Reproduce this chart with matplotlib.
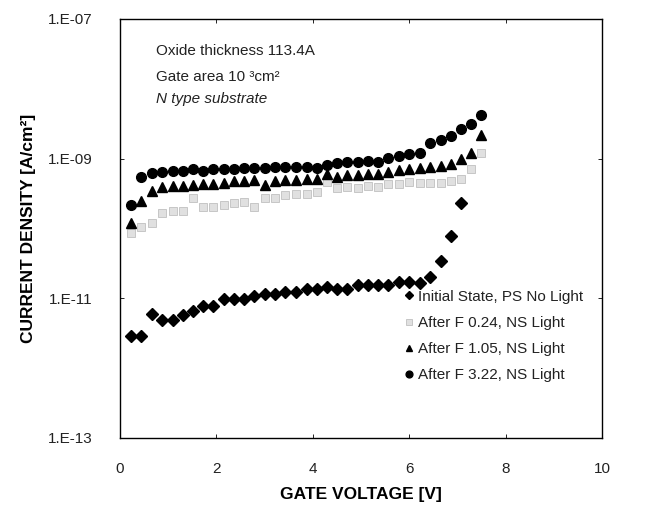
"""
Current density vs gate voltage, log scale, four stress states.
"""

import matplotlib
matplotlib.use("Agg")
import matplotlib.pyplot as plt

plt.rcParams["font.family"] = ["Liberation Sans", "DejaVu Sans"]

# gate voltage steps (V)
voltage = [0.22, 0.44, 0.66, 0.87, 1.09, 1.30, 1.51, 1.73, 1.94, 2.15,
           2.37, 2.58, 2.79, 3.01, 3.22, 3.43, 3.65, 3.87, 4.08, 4.29,
           4.51, 4.72, 4.93, 5.15, 5.36, 5.57, 5.79, 6.00, 6.22, 6.43,
           6.65, 6.86, 7.07, 7.28, 7.49]

# Initial State, PS No Light (33 points, up to ~7.07 V)
j_initial = [2.88e-12, 2.88e-12, 5.90e-12, 4.90e-12, 4.84e-12, 5.77e-12, 6.65e-12,
             7.76e-12, 7.76e-12, 9.68e-12, 9.68e-12, 9.68e-12, 1.08e-11, 1.15e-11,
             1.15e-11, 1.24e-11, 1.24e-11, 1.35e-11, 1.35e-11, 1.47e-11, 1.36e-11,
             1.35e-11, 1.55e-11, 1.55e-11, 1.55e-11, 1.55e-11, 1.73e-11, 1.73e-11,
             1.67e-11, 2.04e-11, 3.39e-11, 7.80e-11, 2.32e-10]

# After F 0.24, NS Light
j_f024 = [8.71e-11, 1.04e-10, 1.19e-10, 1.65e-10, 1.76e-10, 1.78e-10, 2.73e-10,
          2.03e-10, 2.05e-10, 2.17e-10, 2.30e-10, 2.37e-10, 2.05e-10, 2.71e-10,
          2.71e-10, 3.02e-10, 3.09e-10, 3.15e-10, 3.30e-10, 4.59e-10, 3.84e-10,
          3.89e-10, 3.84e-10, 4.10e-10, 3.96e-10, 4.30e-10, 4.38e-10, 4.59e-10,
          4.53e-10, 4.44e-10, 4.53e-10, 4.74e-10, 5.16e-10, 7.05e-10, 1.22e-09]

# After F 1.05, NS Light
j_f105 = [1.21e-10, 2.50e-10, 3.44e-10, 3.93e-10, 4.06e-10, 4.10e-10, 4.20e-10,
          4.34e-10, 4.38e-10, 4.53e-10, 4.74e-10, 4.74e-10, 4.94e-10, 4.24e-10,
          4.83e-10, 4.94e-10, 4.94e-10, 5.06e-10, 5.12e-10, 5.97e-10, 5.52e-10,
          5.83e-10, 5.83e-10, 5.97e-10, 6.09e-10, 6.44e-10, 6.89e-10, 7.11e-10,
          7.43e-10, 7.67e-10, 7.93e-10, 8.47e-10, 9.79e-10, 1.19e-09, 2.16e-09]

# After F 3.22, NS Light
j_f322 = [2.15e-10, 5.52e-10, 6.30e-10, 6.50e-10, 6.59e-10, 6.59e-10, 7.05e-10,
          6.73e-10, 7.05e-10, 7.05e-10, 7.18e-10, 7.43e-10, 7.43e-10, 7.43e-10,
          7.52e-10, 7.67e-10, 7.67e-10, 7.67e-10, 7.28e-10, 8.11e-10, 8.59e-10,
          8.96e-10, 8.87e-10, 9.25e-10, 8.87e-10, 1.03e-09, 1.10e-09, 1.15e-09,
          1.22e-09, 1.69e-09, 1.83e-09, 2.11e-09, 2.66e-09, 3.10e-09, 4.22e-09]

y_ticks = [1e-13, 1e-11, 1e-09, 1e-07]
y_ticklabels = ["1.E-13", "1.E-11", "1.E-09", "1.E-07"]
x_ticks = [0, 2, 4, 6, 8, 10]

fig = plt.figure(figsize=(6.6, 5.08), dpi=100)
ax = fig.add_axes([0.1818, 0.1378, 0.7303, 0.8248])

ax.plot(voltage[:len(j_initial)], j_initial, linestyle="none", marker="D",
        markersize=6, color="black", label="Initial State, PS No Light")
ax.plot(voltage, j_f024, linestyle="none", marker="s", markersize=5.5,
        markerfacecolor="#e0e0e0", markeredgecolor="#c0c0c0", markeredgewidth=0.6,
        label="After F 0.24, NS Light")
ax.plot(voltage, j_f105, linestyle="none", marker="^", markersize=7,
        color="black", label="After F 1.05, NS Light")
ax.plot(voltage, j_f322, linestyle="none", marker="o", markersize=7,
        color="black", label="After F 3.22, NS Light")

ax.set_yscale("log")
ax.set_ylim(1e-13, 1e-07)
ax.set_xlim(0, 10)
ax.set_yticks(y_ticks)
ax.set_yticklabels(y_ticklabels)
ax.minorticks_off()
ax.set_xticks(x_ticks)
ax.tick_params(axis="y", direction="in", length=3, width=0.6, pad=20,
               labelsize=11, labelcolor="#222222", right=True)
ax.tick_params(axis="x", direction="in", length=3, width=0.6, pad=17,
               labelsize=11, labelcolor="#222222", top=True)
for s in ax.spines.values():
    s.set_linewidth(1.0)

label_font = dict(family=["Liberation Sans Narrow", "Liberation Sans"],
                  fontweight="bold", fontsize=12.5)
ax.set_xlabel("GATE VOLTAGE [V]", labelpad=8, **label_font)
ax.set_ylabel("CURRENT DENSITY [A/cm²]", labelpad=8, **label_font)

ax.text(0.075, 0.915, "Oxide thickness 113.4A", transform=ax.transAxes,
        fontsize=11, color="#222222")
ax.text(0.075, 0.853, "Gate area 10 ³cm²", transform=ax.transAxes,
        fontsize=11, color="#222222")
ax.text(0.075, 0.800, "N type substrate", transform=ax.transAxes,
        fontsize=11, style="italic", color="#222222")

ax.legend(loc="lower right", bbox_to_anchor=(0.99, 0.10), frameon=False,
          fontsize=11, markerscale=0.7, handlelength=0.6, handletextpad=0.3,
          labelspacing=0.8, labelcolor="#222222")

fig.savefig("out.png", dpi=100)
